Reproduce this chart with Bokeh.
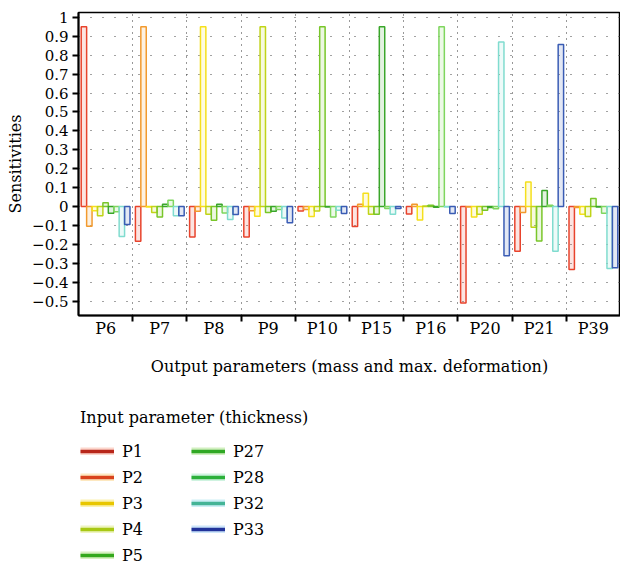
import numpy as np
from bokeh.plotting import figure
from bokeh.layouts import column
from bokeh.models import (ColumnDataSource, Range1d, FixedTicker, CustomJSTickFormatter,
                          Legend, LegendItem)
from bokeh.embed import file_html
from bokeh.resources import INLINE

# ---------------- data ----------------
groups = ["P6", "P7", "P8", "P9", "P10", "P15", "P16", "P20", "P21", "P39"]
inputs = ["P1", "P2", "P3", "P4", "P5", "P27", "P28", "P32", "P33"]

p1 = [0.95, -0.183, -0.161, -0.161, -0.024, -0.105, -0.040, -0.510, -0.236, -0.333]
p2 = [-0.104, 0.95, -0.025, -0.022, -0.016, 0.012, 0.012, -0.003, -0.032, -0.005]
p3 = [-0.022, -0.003, 0.95, -0.051, -0.053, 0.071, -0.071, -0.055, 0.130, -0.041]
p4 = [-0.048, -0.031, -0.041, 0.95, -0.024, -0.041, 0.003, -0.041, -0.110, -0.052]
p5 = [0.020, -0.055, -0.073, -0.032, 0.95, -0.041, 0.007, -0.020, -0.182, 0.042]
p27 = [-0.035, 0.012, 0.012, -0.025, -0.003, 0.95, -0.004, -0.005, 0.085, -0.003]
p28 = [-0.028, 0.033, -0.034, -0.016, -0.055, -0.010, 0.95, -0.012, 0.007, -0.035]
p32 = [-0.158, -0.048, -0.068, -0.060, -0.020, -0.041, -0.003, 0.870, -0.236, -0.327]
p33 = [-0.095, -0.048, -0.042, -0.086, -0.037, -0.010, -0.037, -0.260, 0.857, -0.324]
series = [p1, p2, p3, p4, p5, p27, p28, p32, p33]

y_ticks = [-0.5, -0.4, -0.3, -0.2, -0.1, 0.0, 0.1, 0.2, 0.3, 0.4, 0.5, 0.6, 0.7, 0.8, 0.9, 1.0]

bar_colors = ["#e8432c", "#f29a2e", "#f5e01c", "#c0d418", "#79c62a",
              "#3aa62a", "#7fd65e", "#80dccf", "#3a5cb4"]
legend_dark = ["#b8261a", "#d9431c", "#e8c600", "#a8c814", "#34a81c",
               "#30a824", "#2cb03a", "#44b496", "#22339a"]
legend_pale = ["#fcd6cc", "#fde8c0", "#fbf2b0", "#eef4c0", "#d8f0c0",
               "#d2efc0", "#cff3e0", "#cdeff6", "#cde6fa"]

FONT = "DejaVu Serif"

# ---------------- main figure ----------------
p = figure(width=620, height=395, output_backend="svg", toolbar_location=None,
           x_range=Range1d(0, len(groups)), y_range=Range1d(-0.576, 1.026),
           min_border_left=78, min_border_right=0, min_border_top=12,
           min_border_bottom=80)
p.background_fill_color = "white"
p.border_fill_color = "white"
p.outline_line_color = "black"
p.outline_line_width = 1.5

n_in = len(inputs)
for j, (name, vals) in enumerate(zip(inputs, series)):
    x = np.arange(len(groups)) + (j + 1) / (n_in + 1)
    src = ColumnDataSource(dict(x=x, top=vals))
    p.vbar(x="x", top="top", bottom=0, width=1 / (n_in + 1), source=src,
           line_color=bar_colors[j], line_width=1.5, fill_color=bar_colors[j],
           fill_alpha=0.14)

xa = p.xaxis[0]
xa.ticker = FixedTicker(ticks=[i + 0.5 for i in range(len(groups))],
                        minor_ticks=list(range(1, len(groups))))
xa.major_label_overrides = {i + 0.5: g for i, g in enumerate(groups)}
xa.major_tick_in = 0
xa.major_tick_out = 0
xa.minor_tick_in = 0
xa.minor_tick_out = 6
xa.minor_tick_line_width = 2
xa.minor_tick_line_color = "black"
xa.axis_line_width = 2
xa.axis_line_color = "black"
xa.major_label_standoff = -3
xa.major_label_text_font = FONT
xa.major_label_text_font_size = "16px"
xa.major_label_text_color = "black"
xa.axis_label = "Output parameters (mass and max. deformation)"
xa.axis_label_text_font = FONT
xa.axis_label_text_font_size = "16px"
xa.axis_label_text_font_style = "normal"
xa.axis_label_text_color = "black"
xa.axis_label_standoff = 16

ya = p.yaxis[0]
ya.ticker = FixedTicker(ticks=y_ticks)
ya.formatter = CustomJSTickFormatter(code="""
    if (Math.abs(tick) < 1e-9) return "0";
    let s = Math.abs(tick).toFixed(1);
    if (s === "1.0") s = "1";
    return (tick < 0 ? "\u2212" : "") + s;
""")
ya.major_tick_in = 0
ya.major_tick_out = 6
ya.major_tick_line_width = 2
ya.minor_tick_line_color = None
ya.axis_line_width = 2
ya.axis_line_color = "black"
ya.major_label_standoff = 4
ya.major_label_text_font = FONT
ya.major_label_text_font_size = "15px"
ya.major_label_text_color = "black"
ya.axis_label = "Sensitivities"
ya.axis_label_text_font = FONT
ya.axis_label_text_font_size = "16px"
ya.axis_label_text_font_style = "normal"
ya.axis_label_text_color = "black"
ya.axis_label_standoff = 4

p.xgrid.ticker = FixedTicker(ticks=list(range(1, len(groups))))
p.xgrid.grid_line_color = "#333333"
p.xgrid.grid_line_dash = "1 5"
p.xgrid.grid_line_width = 1
p.ygrid.ticker = FixedTicker(ticks=y_ticks)
p.ygrid.grid_line_color = "#444444"
p.ygrid.grid_line_dash = "1 11"
p.ygrid.grid_line_width = 1

# ---------------- legend figure ----------------
lf = figure(width=620, height=172, output_backend="svg", toolbar_location=None,
            x_axis_type=None, y_axis_type=None,
            x_range=Range1d(0, 1), y_range=Range1d(0, 1),
            min_border=0, min_border_left=0, min_border_right=0,
            min_border_top=0, min_border_bottom=0)
lf.outline_line_color = None
lf.grid.visible = False
lf.background_fill_color = "white"
lf.border_fill_color = "white"

items = []
for name, dark, pale in zip(inputs, legend_dark, legend_pale):
    r_pale = lf.line(x=[np.nan], y=[np.nan], line_color=pale, line_width=8)
    r_dark = lf.line(x=[np.nan], y=[np.nan], line_color=dark, line_width=3.5)
    items.append(LegendItem(label=name, renderers=[r_pale, r_dark]))

legend = Legend(items=items, title="Input parameter (thickness)",
                location=(2, 2), orientation="vertical", nrows=5,
                margin=0, padding=0, spacing=6,
                glyph_width=34, glyph_height=8, label_standoff=8,
                label_width=63, label_height=20,
                label_text_font=FONT, label_text_font_size="16px",
                label_text_color="black",
                title_text_font=FONT, title_text_font_size="16px",
                title_text_font_style="normal", title_text_color="black",
                title_standoff=14,
                background_fill_alpha=0, border_line_alpha=0)
lf.add_layout(legend, "center")

layout = column(p, lf, spacing=0)
open("out.html", "w").write(file_html(layout, INLINE))
